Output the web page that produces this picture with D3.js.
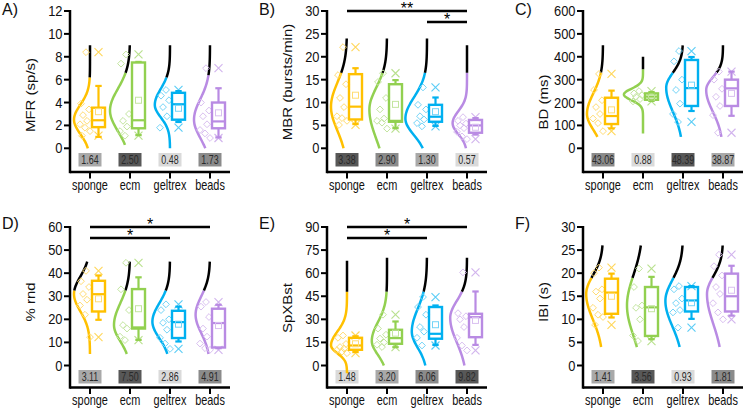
<!DOCTYPE html>
<html><head><meta charset="utf-8">
<script src="https://cdn.jsdelivr.net/npm/d3@7"></script>
<style>body{margin:0;background:#fff} svg{display:block} text{font-family:Arial,"Liberation Sans",sans-serif}</style>
</head><body><svg id="c" width="748" height="418"></svg>
<script>
// ---------------- data ----------------
const categories = ["sponge","ecm","geltrex","beads"];
const panelLetters = ["A)","B)","C)","D)","E)","F)"];
const yTitles = ["MFR (sp/s)","MBR (bursts/min)","BD (ms)","% rnd","SpXBst","IBI (s)"];
const yTickValues = [
  [0,2,4,6,8,10,12],[0,5,10,15,20,25,30],[0,100,200,300,400,500,600],
  [0,10,20,30,40,50,60],[0,15,30,45,60,75,90],[0,5,10,15,20,25,30]];
const statValues = [
  [1.64,2.50,0.48,1.73],[3.38,2.90,1.30,0.57],[43.06,0.88,48.39,38.87],
  [3.11,7.50,2.86,4.91],[1.48,3.20,6.06,9.82],[1.41,3.56,0.93,1.81]];

// raw points per group
const mfrPoints = [[8.4,3.9,3.4,2.9,2.4,2.1,1.8,1.5,1.1],[8.2,7.4,3.0,2.4,1.9,1.5,1.1],[5.1,4.6,4.2,3.6,2.8,1.8],[7.0,4.0,3.3,2.8,2.1,1.6,1.3,0.9]];
const mbrPoints = [[22.1,16.0,14.0,11.0,9.0,7.0,6.6,6.0,5.1],[16.4,14.5,11.0,8.5,6.5,6.0,5.6,4.3],[13.3,9.5,8.5,7.0,6.3,5.5,4.8],[6.8,6.0,5.4,5.0,4.4,3.6,2.6,2.0]];
const bdPoints  = [[325,255,210,180,150,130,110,75],[250,240,232,225,215,205],[425,380,300,255,195,150,115],[335,300,260,225,185,145,68]];
const rndPoints = [[41.0,36.5,34.0,31.0,28.5,26.0,22.0,12.3],[44.5,33.0,24.0,17.5,16.0,12.5,11.0],[26.5,24.0,20.0,18.5,15.5,12.0,9.5,7.2],[27.5,25.5,21.0,16.0,12.5,9.5,7.5,6.8]];
const spxPoints = [[19.5,18.0,14.0,12.0,11.0,10.0,9.0,8.0],[33.0,24.0,20.0,17.5,15.0,13.5,12.0],[44.5,38.0,33.0,25.0,22.0,18.0,13.0],[60.5,34.0,32.0,30.0,25.0,18.0,13.0,9.8]];
const ibiPoints = [[21.2,20.0,16.5,16.0,14.5,12.5,11.0,10.5,8.8],[21.0,17.0,13.0,12.5,10.0,6.5,5.3],[17.2,16.5,14.5,13.5,12.0,11.5,8.2],[24.0,21.5,19.5,17.0,15.5,13.5,11.5,10.0]];

// box stats: [whiskerLow, q1, median, q3, whiskerHigh, mean]
const mfrBox = [[1.0,1.85,2.45,3.55,5.45,3.2],[1.15,1.75,2.45,7.5,7.55,4.2],[2.3,2.5,3.85,4.85,5.0,3.5],[0.95,1.75,2.35,4.0,5.25,3.1]];
const mbrBox = [[5.3,6.3,9.1,16.2,17.5,11.6],[4.4,5.8,6.0,14.0,14.9,9.6],[4.9,5.8,6.9,9.5,11.1,8.0],[3.0,3.4,5.0,6.2,6.6,4.6]];
const bdBox  = [[87,106,141,221,252,168],[207,212,226,240,246,224],[163,185,263,386,399,276],[142,185,262,300,335,240]];
const rndBox = [[19.8,23.4,30.9,36.7,39.0,28.9],[11.1,16.0,16.5,33.1,38.2,24.6],[10.4,11.9,18.8,23.7,25.5,17.9],[7.5,7.8,18.4,24.6,26.3,17.3]];
const spxBox = [[8.7,10.2,13.0,18.0,19.0,14.1],[11.9,14.1,17.8,23.2,28.6,21.0],[13.4,17.4,20.6,38.0,39.0,26.5],[13.4,18.4,31.4,33.6,48.1,29.3]];
const ibiBox = [[10.4,11.2,15.8,18.8,19.9,15.0],[5.7,6.4,12.6,17.0,19.2,12.3],[10.1,11.7,14.1,17.0,17.2,13.6],[10.8,11.7,15.0,19.9,21.6,16.3]];

// half-violin distribution: [low, high, peak, spreadBelow, spreadAbove, relativeDensity]
const mfrDist = [[0,9,2.5,1.25,1.3,1.0],[0.3,9,3.3,1.8,1.9,1.25],[0,9,3.8,1.1,1.4,0.95],[0,9,2.5,1.6,1.8,1.0]];
const mbrDist = [[0,24,9.1,5.2,5.2,1.0],[0,24,8.5,6.5,4.8,1.1],[0,24,6.5,3.6,4.6,1.35],[0,22.5,5.5,2.4,2.6,0.9]];
const bdDist  = [[50,450,150,69,90,1.0],[65,400,235,25,25,1.2],[50,450,265,105,65,1.05],[50,450,255,95,55,1.05]];
const rndDist = [[5,45,31,7.5,7.5,1.0],[5,45,17.5,7,9.5,1.0],[5,45,19,7.2,8,1.1],[5,45,22,8,8,0.9]];
const spxDist = [[-5,68,13,5,9,1.0],[0,70,16,9,12,0.95],[0,70,22,10.5,15,0.95],[0,70,31,16,11,1.05]];
const ibiDist = [[4,26,15.5,5.5,4,1.05],[4,26,13,6.5,6.5,1.0],[4,26,14,5.5,4.5,1.1],[4,26,15.5,6.5,3.8,1.0]];
// value above which the violin outline is black
const mfrBreak = [6.2,6.6,6.2,6.4];
const mbrBreak = [16.5,16.5,16.5,16.5];
const bdBreak  = [330,345,330,330];
const rndBreak = [32.5,32.5,32.5,32.5];
const spxBreak = [48,48,48,48];
const ibiBreak = [19,19,19,19];

// significance: [panelIndex, from, to, label]
const sigBars = [[1,"sponge","beads","**"],[1,"geltrex","beads","*"],[3,"sponge","beads","*"],[3,"sponge","geltrex","*"],[4,"sponge","beads","*"],[4,"sponge","geltrex","*"]];

const groupColors = ["#FFC000","#92D050","#00B0F0","#B98BE3"];

// ---------------- layout ----------------
const panelData = [
  [mfrPoints,mfrBox,mfrDist,mfrBreak],[mbrPoints,mbrBox,mbrDist,mbrBreak],[bdPoints,bdBox,bdDist,bdBreak],
  [rndPoints,rndBox,rndDist,rndBreak],[spxPoints,spxBox,spxDist,spxBreak],[ibiPoints,ibiBox,ibiDist,ibiBreak]];
const colX = [70,327,583];
const rows = [{top:11,zero:148.3,axisY:172,boxY:153,labelY:189.5,letterY:15},
              {top:227,zero:365.5,axisY:387.5,boxY:370,labelY:404.5,letterY:229}];
const titleY = [95,82,102,302,308,302];
const grays = ["#dadada","#a9a9a9","#8b8b8b","#585858"];

const svg = d3.select("#c");
svg.append("rect").attr("width",748).attr("height",418).attr("fill","#fff");

function txt(g, x, y, s, size, anchor, sx, fill){
  return g.append("text").attr("transform",`translate(${x},${y}) scale(${sx},1)`)
    .attr("font-size",size).attr("text-anchor",anchor||"start").attr("fill",fill||"#111").text(s);
}
const wScale = d3.scaleLinear().domain([0,1]).range([0,16]);
const pale = c => d3.interpolateRgb(c,"#ffffff")(0.45);

panelData.forEach((pd, pi) => {
  const [pts, box, dist, brk] = pd;
  const col = pi % 3, row = rows[Math.floor(pi/3)];
  const ax = colX[col];
  const ticks = yTickValues[pi];
  const y = d3.scaleLinear().domain([0, d3.max(ticks)]).range([row.zero, row.top]);
  const x = d3.scalePoint().domain(categories).range([ax+20, ax+140]);
  const g = svg.append("g");

  // panel letter
  txt(g, ax-68, row.letterY, panelLetters[pi], 16, "start", 1);
  // y title
  g.append("text").attr("transform",`translate(${ax-40},${titleY[pi]}) rotate(-90) scale(1,0.9)`)
    .attr("font-size",15).attr("text-anchor","middle").attr("dy","0.35em").attr("fill","#111").text(yTitles[pi]);

  // axes
  g.append("line").attr("x1",ax).attr("x2",ax).attr("y1",y(d3.max(ticks))-1).attr("y2",row.axisY+1.2)
    .attr("stroke","#000").attr("stroke-width",2.5);
  g.append("line").attr("x1",ax).attr("x2",ax+160).attr("y1",row.axisY).attr("y2",row.axisY)
    .attr("stroke","#000").attr("stroke-width",2.5);
  ticks.forEach(v => {
    g.append("line").attr("x1",ax-6).attr("x2",ax).attr("y1",y(v)).attr("y2",y(v)).attr("stroke","#000").attr("stroke-width",2);
    txt(g, ax-7.5, y(v)+5, String(v), 14, "end", 0.92);
  });
  categories.forEach(c => {
    g.append("line").attr("x1",x(c)).attr("x2",x(c)).attr("y1",row.axisY).attr("y2",row.axisY+6.5).attr("stroke","#000").attr("stroke-width",2);
    txt(g, x(c), row.labelY, c, 14, "middle", 0.78);
  });

  // stat boxes, gray by rank
  const sv = statValues[pi];
  const order = sv.map((v,i)=>i).sort((a,b)=>sv[a]-sv[b]);
  categories.forEach((c,i) => {
    const rank = order.indexOf(i);
    g.append("rect").attr("x",x(c)-11.5).attr("y",row.boxY).attr("width",23).attr("height",13.5).attr("fill",grays[rank]);
    txt(g, x(c), row.boxY+11, sv[i].toFixed(2), 12, "middle", 0.74, "#2a2a2a");
  });

  // groups
  categories.forEach((c,i) => {
    const t = x(c), color = groupColors[i], pc = pale(color);
    const [lo,hi,pk,sl,sh,amp] = dist[i];
    const dens = v => amp*Math.exp(-0.5*Math.pow((v-pk)/(v<pk?sl:sh),2));
    const line = d3.line().x(v => t - wScale(dens(v))).y(v => y(v)).curve(d3.curveBasis);
    const seg = (a,b) => d3.range(0,61).map(k => a + (b-a)*k/60);
    g.append("path").attr("d", line(seg(lo, brk[i]))).attr("fill","none").attr("stroke",color).attr("stroke-width",2.5);
    g.append("path").attr("d", line(seg(brk[i], hi))).attr("fill","none").attr("stroke","#000").attr("stroke-width",2.5);

    // diamonds
    const sorted = pts[i].slice().sort((a,b)=>b-a);
    sorted.forEach((v,k) => {
      const off = [-4,-9,-1,-7,-3,-10,-5,0,-8][k % 9];
      const r = 3.4;
      g.append("path").attr("d",`M${t+off},${y(v)-r}L${t+off+r},${y(v)}L${t+off},${y(v)+r}L${t+off-r},${y(v)}Z`)
        .attr("fill","none").attr("stroke",pc).attr("stroke-width",1);
    });

    // box
    const [wl,q1,med,q3,wh,mean] = box[i];
    const bx0 = t+2, bx1 = t+15, bc = t+8.5;
    g.append("line").attr("x1",bc).attr("x2",bc).attr("y1",y(wl)).attr("y2",y(q1)).attr("stroke",color).attr("stroke-width",2.2);
    g.append("line").attr("x1",bc).attr("x2",bc).attr("y1",y(q3)).attr("y2",y(wh)).attr("stroke",color).attr("stroke-width",2.2);
    [wl,wh].forEach(v => g.append("line").attr("x1",bc-3.2).attr("x2",bc+3.2).attr("y1",y(v)).attr("y2",y(v)).attr("stroke",color).attr("stroke-width",2.2));
    g.append("rect").attr("x",bx0).attr("y",y(q3)).attr("width",bx1-bx0).attr("height",Math.max(0.5,y(q1)-y(q3)))
      .attr("fill","none").attr("stroke",color).attr("stroke-width",2.4);
    g.append("line").attr("x1",bx0).attr("x2",bx1).attr("y1",y(med)).attr("y2",y(med)).attr("stroke",color).attr("stroke-width",2.2);
    g.append("rect").attr("x",bc-3).attr("y",y(mean)-3).attr("width",6).attr("height",6)
      .attr("fill","none").attr("stroke",pc).attr("stroke-width",1);
    // min/max crosses
    [d3.min(pts[i]), d3.max(pts[i])].forEach(v => {
      const s = 4;
      g.append("path").attr("d",`M${bc-s},${y(v)-s}L${bc+s},${y(v)+s}M${bc-s},${y(v)+s}L${bc+s},${y(v)-s}`)
        .attr("stroke",color).attr("stroke-opacity",0.65).attr("stroke-width",1.1);
    });
  });

  // significance bars
  sigBars.filter(s => s[0]===pi).forEach((s,k) => {
    const lev = y(d3.max(ticks)*(1-0.08*k));
    g.append("line").attr("x1",x(s[1])).attr("x2",x(s[2])).attr("y1",lev).attr("y2",lev).attr("stroke","#000").attr("stroke-width",2.5);
    g.append("text").attr("x",(x(s[1])+x(s[2]))/2).attr("y",lev+3).attr("text-anchor","middle")
      .attr("font-size",16).attr("fill","#000").text(s[3]);
  });
});
</script></body></html>
